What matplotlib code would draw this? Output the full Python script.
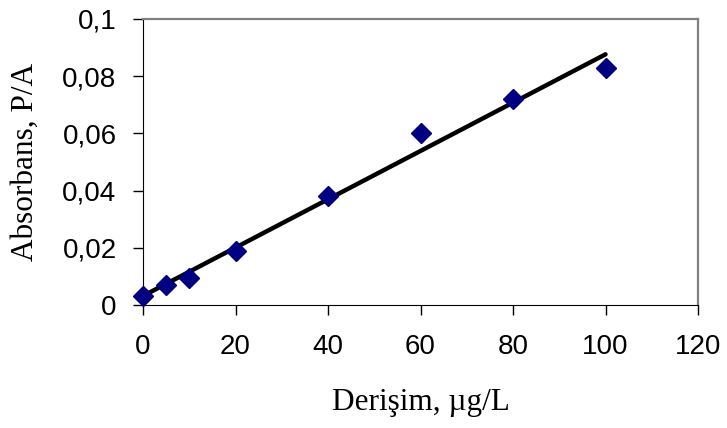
import numpy as np
import matplotlib.pyplot as plt

# Derisim (ug/L) ve absorbans degerleri
derisim = np.array([0, 5, 10, 20, 40, 60, 80, 100])
absorbans = np.array([0.003, 0.007, 0.0095, 0.019, 0.038, 0.060, 0.072, 0.083])
x_ticks = [0, 20, 40, 60, 80, 100, 120]
y_ticks = [0, 0.02, 0.04, 0.06, 0.08, 0.1]
y_labels = ["0", "0,02", "0,04", "0,06", "0,08", "0,1"]

fig = plt.figure(figsize=(7.27, 4.28), dpi=100)
ax = fig.add_axes([143 / 727, 1 - 305 / 428, 555 / 727, 286 / 428])

# dogrusal egilim cizgisi
a, b = np.polyfit(derisim, absorbans, 1)
xl = np.array([0, 100])
ax.plot(xl, a * xl + b, color="black", lw=3.2, solid_capstyle="round", zorder=2)
ax.plot(derisim, absorbans, "D", color="#000080", ms=10, zorder=3, clip_on=False)

ax.set_xlim(0, 120)
ax.set_ylim(0, 0.1)
ax.set_xticks(x_ticks)
ax.set_yticks(y_ticks)
ax.set_yticklabels(y_labels)
ax.tick_params(direction="out", length=7, width=1, labelsize=20)
ax.tick_params(axis="x", pad=14)
ax.tick_params(axis="y", pad=12)
for lab in ax.get_xticklabels() + ax.get_yticklabels():
    lab.set_family("Liberation Sans")

ax.spines["left"].set_color("black")
ax.spines["bottom"].set_color("black")
ax.spines["top"].set_color("#808080")
ax.spines["right"].set_color("#808080")
ax.spines["top"].set_linewidth(1.6)
ax.spines["right"].set_linewidth(1.6)

ax.set_xlabel("Derişim, µg/L", fontsize=22.5, family="Liberation Serif", va="top")
ax.set_ylabel("Absorbans, P/A", fontsize=22.5, family="Liberation Serif")
ax.xaxis.set_label_coords(0.5, -0.29)
ax.yaxis.set_label_coords(-0.185, 0.5)

fig.savefig("out.png", dpi=100)
